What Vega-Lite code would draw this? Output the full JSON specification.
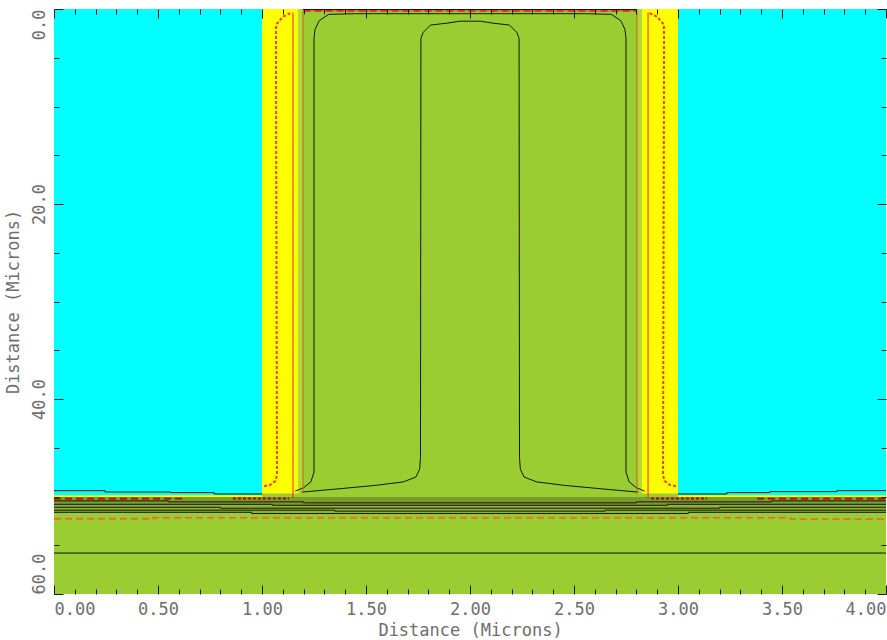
{
  "$schema": "https://vega.github.io/schema/vega-lite/v6.json",
  "width": 832,
  "height": 585,
  "autosize": {"type": "none"},
  "padding": {"left": 54, "top": 9, "right": 1, "bottom": 46},
  "background": "white",
  "config": {
    "view": {"stroke": null},
    "axis": {"domain": false, "grid": false, "labelFont": "DejaVu Sans Mono", "labelFontSize": 17, "labelColor": "#6e6e6e", "titleFont": "DejaVu Sans Mono", "titleFontSize": 17, "titleFontWeight": "normal", "titleColor": "#6e6e6e", "tickColor": "#1a1a1a", "tickWidth": 1, "zindex": 2}
  },
  "datasets": {
    "regions": [
      {"mat": "green", "x": 0, "x2": 4, "y": 0, "y2": 60},
      {"mat": "cyan", "x": 0, "x2": 1.0, "y": 0, "y2": 49.88},
      {"mat": "cyan", "x": 3.0, "x2": 4.0, "y": 0, "y2": 49.88},
      {"mat": "yellow", "x": 1.0, "x2": 1.173, "y": 0, "y2": 49.7},
      {"mat": "yellow", "x": 2.827, "x2": 3.0, "y": 0, "y2": 49.7},
      {"mat": "yellow", "x": 0, "x2": 1.0, "y": 49.88, "y2": 50.05},
      {"mat": "yellow", "x": 3.0, "x2": 4.0, "y": 49.88, "y2": 50.05},
      {"mat": "light", "x": 1.173, "x2": 1.197, "y": 0, "y2": 49.7},
      {"mat": "light", "x": 2.803, "x2": 2.827, "y": 0, "y2": 49.7},
      {"mat": "olive", "x": 0, "x2": 4, "y": 50.05, "y2": 50.9},
      {"mat": "olive2", "x": 0, "x2": 4, "y": 50.9, "y2": 51.7}
    ],
    "solid": [
      {"s": "outer", "k": "black", "o": 1, "x": 1.16, "y": 49.45},
      {"s": "outer", "k": "black", "o": 2, "x": 1.2, "y": 49.1},
      {"s": "outer", "k": "black", "o": 3, "x": 1.235, "y": 48.5},
      {"s": "outer", "k": "black", "o": 4, "x": 1.25, "y": 47.5},
      {"s": "outer", "k": "black", "o": 5, "x": 1.25, "y": 3.0},
      {"s": "outer", "k": "black", "o": 6, "x": 1.255, "y": 2.1},
      {"s": "outer", "k": "black", "o": 7, "x": 1.275, "y": 1.2},
      {"s": "outer", "k": "black", "o": 8, "x": 1.32, "y": 0.55},
      {"s": "outer", "k": "black", "o": 9, "x": 1.45, "y": 0.48},
      {"s": "outer", "k": "black", "o": 10, "x": 2.55, "y": 0.48},
      {"s": "outer", "k": "black", "o": 11, "x": 2.68, "y": 0.55},
      {"s": "outer", "k": "black", "o": 12, "x": 2.725, "y": 1.2},
      {"s": "outer", "k": "black", "o": 13, "x": 2.745, "y": 2.1},
      {"s": "outer", "k": "black", "o": 14, "x": 2.75, "y": 3.0},
      {"s": "outer", "k": "black", "o": 15, "x": 2.75, "y": 47.5},
      {"s": "outer", "k": "black", "o": 16, "x": 2.765, "y": 48.5},
      {"s": "outer", "k": "black", "o": 17, "x": 2.8, "y": 49.1},
      {"s": "outer", "k": "black", "o": 18, "x": 2.84, "y": 49.45},
      {"s": "inner", "k": "black", "o": 1, "x": 1.19, "y": 49.55},
      {"s": "inner", "k": "black", "o": 2, "x": 1.375, "y": 49.2},
      {"s": "inner", "k": "black", "o": 3, "x": 1.55, "y": 48.85},
      {"s": "inner", "k": "black", "o": 4, "x": 1.68, "y": 48.5},
      {"s": "inner", "k": "black", "o": 5, "x": 1.74, "y": 48.0},
      {"s": "inner", "k": "black", "o": 6, "x": 1.758, "y": 47.2},
      {"s": "inner", "k": "black", "o": 7, "x": 1.762, "y": 46.0},
      {"s": "inner", "k": "black", "o": 8, "x": 1.764, "y": 3.0},
      {"s": "inner", "k": "black", "o": 9, "x": 1.775, "y": 2.4},
      {"s": "inner", "k": "black", "o": 10, "x": 1.81, "y": 1.65},
      {"s": "inner", "k": "black", "o": 11, "x": 1.89, "y": 1.45},
      {"s": "inner", "k": "black", "o": 12, "x": 1.95, "y": 1.25},
      {"s": "inner", "k": "black", "o": 13, "x": 2.05, "y": 1.25},
      {"s": "inner", "k": "black", "o": 14, "x": 2.11, "y": 1.45},
      {"s": "inner", "k": "black", "o": 15, "x": 2.19, "y": 1.65},
      {"s": "inner", "k": "black", "o": 16, "x": 2.225, "y": 2.4},
      {"s": "inner", "k": "black", "o": 17, "x": 2.236, "y": 3.0},
      {"s": "inner", "k": "black", "o": 18, "x": 2.238, "y": 46.0},
      {"s": "inner", "k": "black", "o": 19, "x": 2.242, "y": 47.2},
      {"s": "inner", "k": "black", "o": 20, "x": 2.26, "y": 48.0},
      {"s": "inner", "k": "black", "o": 21, "x": 2.32, "y": 48.5},
      {"s": "inner", "k": "black", "o": 22, "x": 2.45, "y": 48.85},
      {"s": "inner", "k": "black", "o": 23, "x": 2.625, "y": 49.2},
      {"s": "inner", "k": "black", "o": 24, "x": 2.81, "y": 49.55},
      {"s": "bound", "k": "brown", "o": 1, "x": 1.197, "y": 49.7},
      {"s": "bound", "k": "brown", "o": 2, "x": 1.197, "y": 0.2},
      {"s": "bound", "k": "brown", "o": 3, "x": 2.803, "y": 0.2},
      {"s": "bound", "k": "brown", "o": 4, "x": 2.803, "y": 49.7},
      {"s": "redL", "k": "red", "o": 1, "x": 1.149, "y": 0.35},
      {"s": "redL", "k": "red", "o": 2, "x": 1.149, "y": 50.2},
      {"s": "redR", "k": "red", "o": 1, "x": 2.856, "y": 0.35},
      {"s": "redR", "k": "red", "o": 2, "x": 2.856, "y": 50.2},
      {"s": "topline", "k": "black", "o": 1, "x": 1.197, "y": 0.05},
      {"s": "topline", "k": "black", "o": 2, "x": 2.803, "y": 0.05},
      {"s": "cyanL", "k": "black", "o": 1, "x": 0, "y": 49.4},
      {"s": "cyanL", "k": "black", "o": 2, "x": 0.245, "y": 49.4},
      {"s": "cyanL", "k": "black", "o": 3, "x": 0.245, "y": 49.54},
      {"s": "cyanL", "k": "black", "o": 4, "x": 0.56, "y": 49.54},
      {"s": "cyanL", "k": "black", "o": 5, "x": 0.56, "y": 49.6},
      {"s": "cyanL", "k": "black", "o": 6, "x": 0.77, "y": 49.6},
      {"s": "cyanL", "k": "black", "o": 7, "x": 0.77, "y": 49.74},
      {"s": "cyanL", "k": "black", "o": 8, "x": 1.0, "y": 49.74},
      {"s": "cyanR", "k": "black", "o": 1, "x": 3.0, "y": 49.74},
      {"s": "cyanR", "k": "black", "o": 2, "x": 3.236, "y": 49.74},
      {"s": "cyanR", "k": "black", "o": 3, "x": 3.236, "y": 49.6},
      {"s": "cyanR", "k": "black", "o": 4, "x": 3.442, "y": 49.6},
      {"s": "cyanR", "k": "black", "o": 5, "x": 3.442, "y": 49.5},
      {"s": "cyanR", "k": "black", "o": 6, "x": 3.764, "y": 49.5},
      {"s": "cyanR", "k": "black", "o": 7, "x": 3.764, "y": 49.4},
      {"s": "cyanR", "k": "black", "o": 8, "x": 4.0, "y": 49.4},
      {"s": "h1", "k": "black", "o": 1, "x": 0, "y": 50.45},
      {"s": "h1", "k": "black", "o": 2, "x": 0.55, "y": 50.45},
      {"s": "h1", "k": "black", "o": 3, "x": 0.55, "y": 50.55},
      {"s": "h1", "k": "black", "o": 4, "x": 1.2, "y": 50.55},
      {"s": "h1", "k": "black", "o": 5, "x": 1.2, "y": 50.65},
      {"s": "h1", "k": "black", "o": 6, "x": 2.8, "y": 50.65},
      {"s": "h1", "k": "black", "o": 7, "x": 2.8, "y": 50.55},
      {"s": "h1", "k": "black", "o": 8, "x": 3.45, "y": 50.55},
      {"s": "h1", "k": "black", "o": 9, "x": 3.45, "y": 50.45},
      {"s": "h1", "k": "black", "o": 10, "x": 4, "y": 50.45},
      {"s": "h2", "k": "black", "o": 1, "x": 0, "y": 50.8},
      {"s": "h2", "k": "black", "o": 2, "x": 1.05, "y": 50.8},
      {"s": "h2", "k": "black", "o": 3, "x": 1.05, "y": 50.9},
      {"s": "h2", "k": "black", "o": 4, "x": 2.95, "y": 50.9},
      {"s": "h2", "k": "black", "o": 5, "x": 2.95, "y": 50.8},
      {"s": "h2", "k": "black", "o": 6, "x": 4, "y": 50.8},
      {"s": "h3", "k": "black", "o": 1, "x": 0, "y": 51.1},
      {"s": "h3", "k": "black", "o": 2, "x": 0.8, "y": 51.1},
      {"s": "h3", "k": "black", "o": 3, "x": 0.8, "y": 51.2},
      {"s": "h3", "k": "black", "o": 4, "x": 3.2, "y": 51.2},
      {"s": "h3", "k": "black", "o": 5, "x": 3.2, "y": 51.1},
      {"s": "h3", "k": "black", "o": 6, "x": 4, "y": 51.1},
      {"s": "h4", "k": "black", "o": 1, "x": 0, "y": 51.4},
      {"s": "h4", "k": "black", "o": 2, "x": 1.35, "y": 51.4},
      {"s": "h4", "k": "black", "o": 3, "x": 1.35, "y": 51.5},
      {"s": "h4", "k": "black", "o": 4, "x": 2.65, "y": 51.5},
      {"s": "h4", "k": "black", "o": 5, "x": 2.65, "y": 51.4},
      {"s": "h4", "k": "black", "o": 6, "x": 4, "y": 51.4},
      {"s": "h5", "k": "black", "o": 1, "x": 0, "y": 51.62},
      {"s": "h5", "k": "black", "o": 2, "x": 0.95, "y": 51.62},
      {"s": "h5", "k": "black", "o": 3, "x": 0.95, "y": 51.75},
      {"s": "h5", "k": "black", "o": 4, "x": 3.05, "y": 51.75},
      {"s": "h5", "k": "black", "o": 5, "x": 3.05, "y": 51.62},
      {"s": "h5", "k": "black", "o": 6, "x": 4, "y": 51.62},
      {"s": "h6", "k": "black", "o": 1, "x": 0, "y": 55.8},
      {"s": "h6", "k": "black", "o": 2, "x": 4, "y": 55.8}
    ],
    "dashed": [
      {"s": "drL", "k": "darkred", "o": 1, "x": 0, "y": 50.22},
      {"s": "drL", "k": "darkred", "o": 2, "x": 0.62, "y": 50.22},
      {"s": "drR", "k": "darkred", "o": 1, "x": 3.38, "y": 50.22},
      {"s": "drR", "k": "darkred", "o": 2, "x": 4.0, "y": 50.22},
      {"s": "or", "k": "orange", "o": 1, "x": 0, "y": 52.28},
      {"s": "or", "k": "orange", "o": 2, "x": 0.476, "y": 52.28},
      {"s": "or", "k": "orange", "o": 3, "x": 0.476, "y": 52.18},
      {"s": "or", "k": "orange", "o": 4, "x": 3.54, "y": 52.18},
      {"s": "or", "k": "orange", "o": 5, "x": 3.54, "y": 52.32},
      {"s": "or", "k": "orange", "o": 6, "x": 4.0, "y": 52.32},
      {"s": "rtop", "k": "red", "o": 1, "x": 1.2, "y": 0.2},
      {"s": "rtop", "k": "red", "o": 2, "x": 2.8, "y": 0.2}
    ],
    "dotted": [
      {"s": "zL", "k": "red", "o": 1, "x": 1.01, "y": 48.95},
      {"s": "zL", "k": "red", "o": 2, "x": 1.04, "y": 48.8},
      {"s": "zL", "k": "red", "o": 3, "x": 1.065, "y": 48.4},
      {"s": "zL", "k": "red", "o": 4, "x": 1.072, "y": 47.8},
      {"s": "zL", "k": "red", "o": 5, "x": 1.067, "y": 3.0},
      {"s": "zL", "k": "red", "o": 6, "x": 1.068, "y": 1.6},
      {"s": "zL", "k": "red", "o": 7, "x": 1.1, "y": 0.8},
      {"s": "zL", "k": "red", "o": 8, "x": 1.144, "y": 0.34},
      {"s": "zR", "k": "red", "o": 1, "x": 2.99, "y": 48.95},
      {"s": "zR", "k": "red", "o": 2, "x": 2.96, "y": 48.8},
      {"s": "zR", "k": "red", "o": 3, "x": 2.935, "y": 48.4},
      {"s": "zR", "k": "red", "o": 4, "x": 2.928, "y": 47.8},
      {"s": "zR", "k": "red", "o": 5, "x": 2.933, "y": 3.0},
      {"s": "zR", "k": "red", "o": 6, "x": 2.932, "y": 1.6},
      {"s": "zR", "k": "red", "o": 7, "x": 2.9, "y": 0.8},
      {"s": "zR", "k": "red", "o": 8, "x": 2.856, "y": 0.34},
      {"s": "dL", "k": "darkred", "o": 1, "x": 0.86, "y": 50.2},
      {"s": "dL", "k": "darkred", "o": 2, "x": 1.13, "y": 50.2},
      {"s": "dR", "k": "darkred", "o": 1, "x": 2.87, "y": 50.2},
      {"s": "dR", "k": "darkred", "o": 2, "x": 3.14, "y": 50.2}
    ]
  },
  "resolve": {"scale": {"color": "independent"}, "axis": {"x": "independent", "y": "independent"}},
  "layer": [
    {
      "data": {"name": "regions"},
      "mark": {"type": "rect"},
      "encoding": {
        "x": {"field": "x", "type": "quantitative", "scale": {"domain": [0, 4], "nice": false, "zero": false},
          "axis": {"orient": "bottom", "values": [0, 0.5, 1, 1.5, 2, 2.5, 3, 3.5, 4], "format": ".2f", "offset": -9, "tickSize": 9, "labelPadding": 7, "labelFlush": true, "title": "Distance (Microns)", "titlePadding": 5, "zindex": 2}},
        "x2": {"field": "x2"},
        "y": {"field": "y", "type": "quantitative", "scale": {"domain": [0, 60], "nice": false, "zero": false, "reverse": true},
          "axis": {"orient": "left", "values": [0, 20, 40, 60], "format": ".1f", "offset": -9, "tickSize": 9, "labelPadding": 6, "labelAngle": -90, "labelBaseline": "bottom",
            "labelAlign": {"condition": [{"test": "datum.value == 0", "value": "right"}, {"test": "datum.value == 60", "value": "left"}], "value": "center"},
            "title": "Distance (Microns)", "titlePadding": 8, "zindex": 2}},
        "y2": {"field": "y2"},
        "color": {"field": "mat", "type": "nominal", "legend": null,
          "scale": {"domain": ["green", "cyan", "yellow", "light", "olive", "olive2"], "range": ["#9acd32", "#00ffff", "#ffff00", "#b2d93a", "#7c9c29", "#8cb42f"]}}
      }
    },
    {
      "data": {"name": "solid"},
      "mark": {"type": "line", "strokeWidth": 1, "interpolate": "linear"},
      "encoding": {
        "x": {"field": "x", "type": "quantitative", "axis": {"orient": "bottom", "values": [0, 0.1, 0.2, 0.3, 0.4, 0.6, 0.7, 0.8, 0.9, 1.1, 1.2, 1.3, 1.4, 1.6, 1.7, 1.8, 1.9, 2.1, 2.2, 2.3, 2.4, 2.6, 2.7, 2.8, 2.9, 3.1, 3.2, 3.3, 3.4, 3.6, 3.7, 3.8, 3.9], "offset": -5, "tickSize": 5, "labels": false, "title": null, "zindex": 2}},
        "y": {"field": "y", "type": "quantitative", "axis": {"orient": "left", "values": [5, 10, 15, 25, 30, 35, 45, 50, 55], "offset": -5, "tickSize": 5, "labels": false, "title": null, "zindex": 2}},
        "detail": {"field": "s"},
        "order": {"field": "o"},
        "color": {"field": "k", "type": "nominal", "legend": null,
          "scale": {"domain": ["black", "red", "brown"], "range": ["#141414", "#e8281e", "#c8641e"]}}
      }
    },
    {
      "data": {"name": "dashed"},
      "mark": {"type": "line", "strokeWidth": 1.8, "strokeDash": [7, 4]},
      "encoding": {
        "x": {"field": "x", "type": "quantitative", "axis": {"orient": "top", "values": [0, 0.5, 1, 1.5, 2, 2.5, 3, 3.5, 4], "offset": -9, "tickSize": 9, "labels": false, "title": null, "zindex": 2}},
        "y": {"field": "y", "type": "quantitative", "axis": {"orient": "right", "values": [0, 20, 40, 60], "offset": -9, "tickSize": 9, "labels": false, "title": null, "zindex": 2}},
        "detail": {"field": "s"},
        "order": {"field": "o"},
        "color": {"field": "k", "type": "nominal", "legend": null,
          "scale": {"domain": ["darkred", "orange", "red"], "range": ["#b00000", "#e2732a", "#e8281e"]}}
      }
    },
    {
      "data": {"name": "dotted"},
      "mark": {"type": "line", "strokeWidth": 2, "strokeDash": [3, 2]},
      "encoding": {
        "x": {"field": "x", "type": "quantitative", "axis": {"orient": "top", "values": [0.1, 0.2, 0.3, 0.4, 0.6, 0.7, 0.8, 0.9, 1.1, 1.2, 1.3, 1.4, 1.6, 1.7, 1.8, 1.9, 2.1, 2.2, 2.3, 2.4, 2.6, 2.7, 2.8, 2.9, 3.1, 3.2, 3.3, 3.4, 3.6, 3.7, 3.8, 3.9], "offset": -5, "tickSize": 5, "labels": false, "title": null, "zindex": 2}},
        "y": {"field": "y", "type": "quantitative", "axis": {"orient": "right", "values": [5, 10, 15, 25, 30, 35, 45, 50, 55], "offset": -5, "tickSize": 5, "labels": false, "title": null, "zindex": 2}},
        "detail": {"field": "s"},
        "order": {"field": "o"},
        "color": {"field": "k", "type": "nominal", "legend": null,
          "scale": {"domain": ["red", "darkred"], "range": ["#f0401e", "#b00000"]}}
      }
    }
  ]
}
